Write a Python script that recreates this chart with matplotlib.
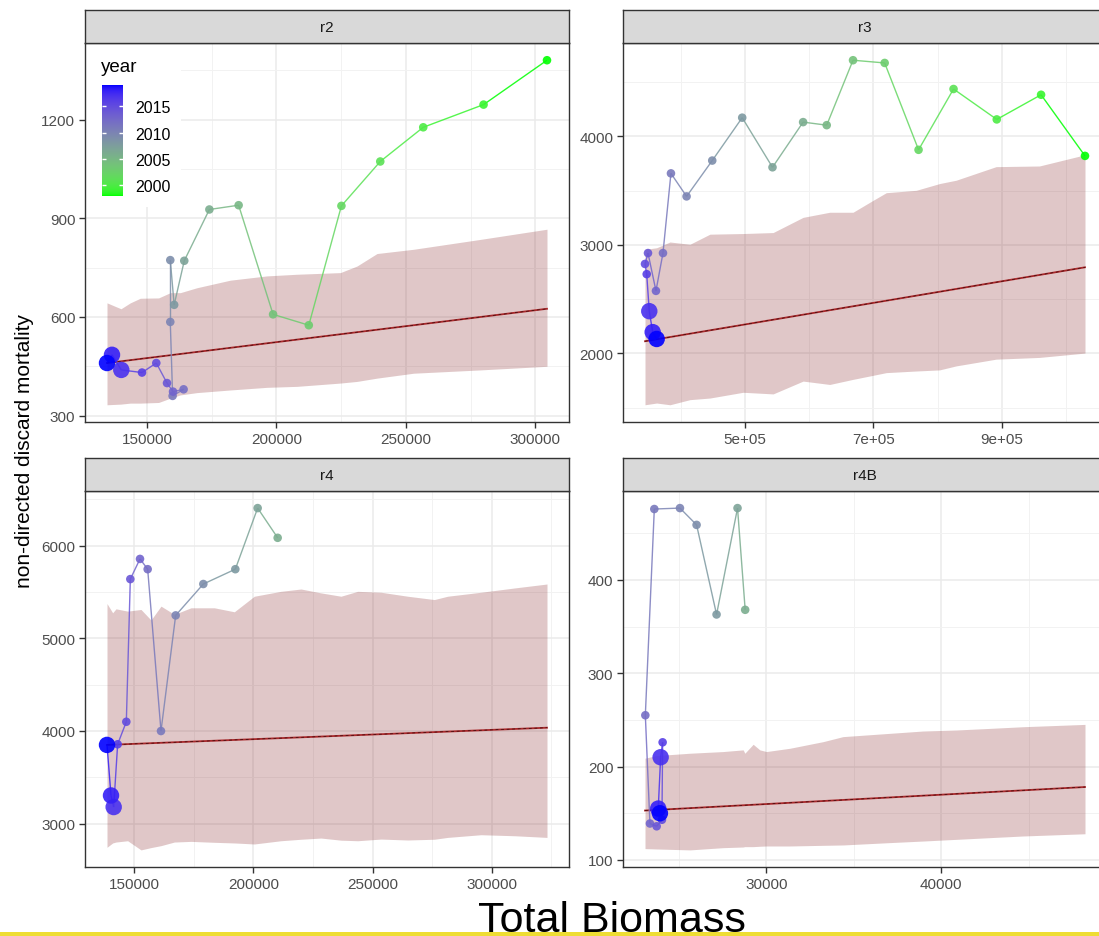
import numpy as np
import matplotlib
matplotlib.use("Agg")
import matplotlib.pyplot as plt
from matplotlib.collections import LineCollection
from matplotlib.colors import ListedColormap, Normalize
from matplotlib.patches import Rectangle
from matplotlib.ticker import MultipleLocator, FuncFormatter

plt.rcParams['font.family'] = ['Liberation Sans', 'DejaVu Sans']

# ---- values ----
years_r2 = list(range(1998, 2020))
biomass_r2 = [304500, 280000, 256700, 240100, 225100, 212500, 198700, 185400, 174100, 164400, 160500,
              159000, 159000, 159900, 164150, 160060, 157740, 153600, 148080, 140080, 136490, 134560]
mortality_r2 = [1381, 1246, 1177, 1073, 938, 575, 608, 940, 927, 771, 637,
                773, 585, 360, 380, 373, 399, 460, 431, 439, 485, 460]
ribbon_x_r2 = [134560, 139960, 143560, 147420, 154500, 159010, 162880, 169310, 182190, 196350, 207940,
               224680, 231120, 238840, 253010, 278760, 304500]
upper_r2 = [643, 625, 643, 657, 658, 674, 674, 689, 712, 725, 730, 735, 755, 793, 806, 836, 867]
lower_r2 = [333, 335, 338, 338, 340, 353, 363, 370, 378, 386, 389, 399, 404, 414, 429, 439, 450]
median_x_r2 = [134560, 304500]
median_r2 = [460, 625]

years_r3 = list(range(1998, 2020))
biomass_r3 = [1028900, 960600, 891700, 824500, 770100, 717400, 668200, 627300, 590600, 543000, 495900,
              449300, 409400, 385100, 372700, 361800, 349400, 344750, 347400, 351400, 356700, 362900]
mortality_r3 = [3819, 4382, 4155, 4435, 3875, 4675, 4700, 4102, 4130, 3714, 4171,
                3776, 3446, 3658, 2924, 2576, 2924, 2824, 2730, 2389, 2196, 2133]
ribbon_x_r3 = [344750, 362900, 383600, 414600, 445700, 497400, 544000, 590600, 632000, 668200, 699200,
               719900, 766500, 802700, 828600, 890700, 958000, 1028900]
upper_r3 = [2958, 2973, 3026, 3005, 3098, 3104, 3113, 3253, 3300, 3300, 3409,
            3480, 3502, 3564, 3595, 3720, 3726, 3829]
lower_r3 = [1527, 1543, 1527, 1574, 1589, 1642, 1627, 1745, 1714, 1761, 1798,
            1823, 1838, 1848, 1885, 1947, 1963, 2003]
median_x_r3 = [344750, 1028900]
median_r3 = [2112, 2793]

years_r4 = list(range(2006, 2020))
biomass_r4 = [210160, 201760, 192390, 178960, 167350, 161190, 155600, 152380, 148320, 146640, 143000,
              141330, 140210, 138530]
mortality_r4 = [6086, 6407, 5747, 5587, 5248, 3999, 5747, 5858, 5640, 4099, 3856, 3178, 3303, 3849]
ribbon_x_r4 = [138530, 140910, 142300, 147200, 152800, 157000, 161190, 166790, 173780, 183580, 191970,
               200360, 211560, 219950, 228340, 236740, 243730, 253530, 264720, 275910, 281510,
               295500, 309490, 323200]
upper_r4 = [5376, 5276, 5319, 5294, 5312, 5198, 5348, 5259, 5330, 5330, 5287, 5455, 5508, 5533,
            5491, 5455, 5508, 5498, 5455, 5419, 5455, 5498, 5544, 5587]
lower_r4 = [2743, 2790, 2800, 2814, 2715, 2740, 2761, 2800, 2807, 2797, 2790, 2779, 2814, 2830,
            2843, 2820, 2814, 2832, 2822, 2830, 2850, 2879, 2868, 2850]
median_x_r4 = [138530, 323200]
median_r4 = [3849, 4035]

years_r4b = list(range(2006, 2020))
biomass_r4b = [28781, 28343, 27143, 26000, 25047, 23580, 23066, 23330, 23715, 24017, 24056,
               23942, 23805, 23900]
mortality_r4b = [368, 477, 363, 459, 477, 476, 255, 139, 136, 143, 226, 210, 155, 150]
ribbon_x_r4b = [23047, 23713, 25618, 27523, 28666, 28762, 29238, 29619, 30000, 31334, 33239,
                34382, 37049, 38954, 40859, 42764, 44669, 48231]
upper_r4b = [209, 211.8, 214.3, 216.1, 217.9, 214.3, 223.9, 217.9, 216.1, 219.6, 226.7,
             232.1, 235.6, 238.1, 239.2, 240.9, 242.7, 245.2]
lower_r4b = [112.1, 111.7, 110.7, 113.1, 113.8, 114.2, 114.2, 114.6, 114.9, 114.9, 115.6,
             116, 118.5, 120.2, 122, 123.8, 125.6, 128]
median_x_r4b = [23047, 48231]
median_r4b = [152.9, 178.1]

legend_years = [2000, 2005, 2010, 2015]
year_min, year_max = 1998, 2019
n_recent = 3  # last years drawn with big points


def srgb_to_lab(rgb):
    c = np.asarray(rgb, float)
    c = np.where(c <= 0.04045, c / 12.92, ((c + 0.055) / 1.055) ** 2.4)
    m = np.array([[0.4124, 0.3576, 0.1805], [0.2126, 0.7152, 0.0722], [0.0193, 0.1192, 0.9505]])
    xyz = m @ c / np.array([0.95047, 1.0, 1.08883])
    f = np.where(xyz > 0.008856, np.cbrt(xyz), 7.787 * xyz + 16 / 116)
    return np.array([116 * f[1] - 16, 500 * (f[0] - f[1]), 200 * (f[1] - f[2])])


def lab_to_srgb(lab):
    fy = (lab[0] + 16) / 116
    f = np.array([fy + lab[1] / 500, fy, fy - lab[2] / 200])
    xyz = np.where(f ** 3 > 0.008856, f ** 3, (f - 16 / 116) / 7.787) * np.array([0.95047, 1.0, 1.08883])
    m = np.array([[3.2406, -1.5372, -0.4986], [-0.9689, 1.8758, 0.0415], [0.0557, -0.2040, 1.0570]])
    c = m @ xyz
    c = np.where(c <= 0.0031308, 12.92 * c, 1.055 * np.clip(c, 0, None) ** (1 / 2.4) - 0.055)
    return np.clip(c, 0, 1)


# ggplot-like green -> blue gradient interpolated in Lab space
lab_lo = srgb_to_lab([0, 1, 0])
lab_hi = srgb_to_lab([0, 0, 1])
cmap = ListedColormap([lab_to_srgb(lab_lo + t * (lab_hi - lab_lo)) for t in np.linspace(0, 1, 256)])
norm = Normalize(year_min, year_max)


def padded(values):
    lo, hi = min(values), max(values)
    pad = 0.05 * (hi - lo)
    return lo - pad, hi + pad


def draw_panel(ax, title, years, biomass, mortality, rib_x, upper, lower, med_x, med_y,
               x_major, x_minor, y_major, y_minor, x_fmt=None):
    ax.fill_between(rib_x, lower, upper, color='#7B1113', alpha=0.23, linewidth=0, zorder=1)
    ax.plot(med_x, med_y, color='#A8282B', lw=1.3, zorder=2)
    ax.plot(med_x, med_y, color='#3A0A0A', lw=0.5, ls=(0, (4, 4)), zorder=2)

    pts = np.column_stack([biomass, mortality])
    segs = np.stack([pts[:-1], pts[1:]], axis=1)
    colors = cmap(norm(np.array(years[:-1])))
    ax.add_collection(LineCollection(segs, colors=colors, linewidths=1.0, alpha=0.85, zorder=3))

    sizes = [38] * (len(years) - n_recent) + [140] * n_recent
    ax.scatter(biomass, mortality, c=years, cmap=cmap, norm=norm, s=sizes, alpha=0.9,
               linewidths=0, zorder=4)

    ax.set_xlim(padded(list(biomass) + list(rib_x)))
    ax.set_ylim(padded(list(mortality) + list(upper) + list(lower)))

    ax.xaxis.set_major_locator(MultipleLocator(x_major))
    ax.xaxis.set_minor_locator(MultipleLocator(x_minor))
    ax.yaxis.set_major_locator(MultipleLocator(y_major))
    ax.yaxis.set_minor_locator(MultipleLocator(y_minor))
    if x_fmt is not None:
        ax.xaxis.set_major_formatter(FuncFormatter(x_fmt))
    else:
        ax.xaxis.set_major_formatter(FuncFormatter(lambda v, p: f"{v:.0f}"))
    ax.yaxis.set_major_formatter(FuncFormatter(lambda v, p: f"{v:.0f}"))

    ax.grid(which='major', color='#EBEBEB', lw=1.1, zorder=0)
    ax.grid(which='minor', color='#F2F2F2', lw=0.7, zorder=0)
    ax.set_axisbelow(True)
    ax.tick_params(which='major', length=4, width=1, color='#333333', labelcolor='#4D4D4D',
                   labelsize=11, pad=3)
    ax.tick_params(which='minor', length=0)
    for s in ax.spines.values():
        s.set_color('#333333')
        s.set_linewidth(1.0)

    # facet strip
    pos = ax.get_position()
    strip = ax.figure.add_axes([pos.x0, pos.y1, pos.width, 33 / 937])
    strip.set_facecolor('#D9D9D9')
    strip.set_xticks([])
    strip.set_yticks([])
    for s in strip.spines.values():
        s.set_color('#333333')
        s.set_linewidth(1.0)
    strip.text(0.5, 0.5, title, ha='center', va='center', fontsize=11, color='#1A1A1A',
               transform=strip.transAxes)


W, H = 1099, 937
fig = plt.figure(figsize=(W / 100, H / 100), dpi=100)

left_x, right_x, width = 85 / W, 623 / W, 484 / W
top_y, top_h = 1 - 423 / H, 379 / H
bot_y, bot_h = 1 - 868 / H, 376 / H

ax_r2 = fig.add_axes([left_x, top_y, width, top_h])
ax_r3 = fig.add_axes([right_x, top_y, width, top_h])
ax_r4 = fig.add_axes([left_x, bot_y, width, bot_h])
ax_r4b = fig.add_axes([right_x, bot_y, width, bot_h])

draw_panel(ax_r2, 'r2', years_r2, biomass_r2, mortality_r2, ribbon_x_r2, upper_r2, lower_r2,
           median_x_r2, median_r2, 50000, 25000, 300, 150)
draw_panel(ax_r3, 'r3', years_r3, biomass_r3, mortality_r3, ribbon_x_r3, upper_r3, lower_r3,
           median_x_r3, median_r3, 200000, 100000, 1000, 500,
           x_fmt=lambda v, p: f"{v:.0e}")
draw_panel(ax_r4, 'r4', years_r4, biomass_r4, mortality_r4, ribbon_x_r4, upper_r4, lower_r4,
           median_x_r4, median_r4, 50000, 25000, 1000, 500)
draw_panel(ax_r4b, 'r4B', years_r4b, biomass_r4b, mortality_r4b, ribbon_x_r4b, upper_r4b, lower_r4b,
           median_x_r4b, median_r4b, 10000, 5000, 100, 50)
ax_r3.xaxis.set_major_locator(MultipleLocator(200000, offset=100000))

# colour legend inside the r2 panel (white box sits over the grid, under the frame)
ax_r2.add_patch(Rectangle((0.003, 1 - 164 / 379), 95 / 484, 164 / 379 - 0.003,
                          transform=ax_r2.transAxes, facecolor='white', edgecolor='none',
                          zorder=0.8))
fig.text(101 / W, 1 - 68 / H, 'year', fontsize=13.5, color='black', ha='left', va='center')
cax = fig.add_axes([102 / W, 1 - 197 / H, 21 / W, 111 / H])
cax.imshow(np.linspace(year_min, year_max, 256)[:, None], aspect='auto', cmap=cmap, norm=norm,
           origin='lower', extent=[0, 1, year_min, year_max])
cax.hlines(legend_years, 0, 0.2, color='white', lw=1)
cax.hlines(legend_years, 0.8, 1, color='white', lw=1)
cax.set_xlim(0, 1)
cax.set_ylim(year_min, year_max)
cax.set_xticks([])
cax.yaxis.tick_right()
cax.set_yticks(legend_years)
cax.tick_params(length=0, labelsize=11.5, labelcolor='black', pad=9)
for s in cax.spines.values():
    s.set_visible(False)

fig.text(25 / W, 1 - 451 / H, 'non-directed discard mortality', rotation=90, fontsize=15,
         ha='center', va='center', color='black')
fig.text(612 / W, 1 - 932 / H, 'Total Biomass', fontsize=31, ha='center', va='baseline',
         color='black')
fig.patches.append(Rectangle((0, 0), 1, 4 / H, transform=fig.transFigure,
                             facecolor='#EEDD33', edgecolor='none', zorder=10))

fig.savefig('out.png', dpi=100)
